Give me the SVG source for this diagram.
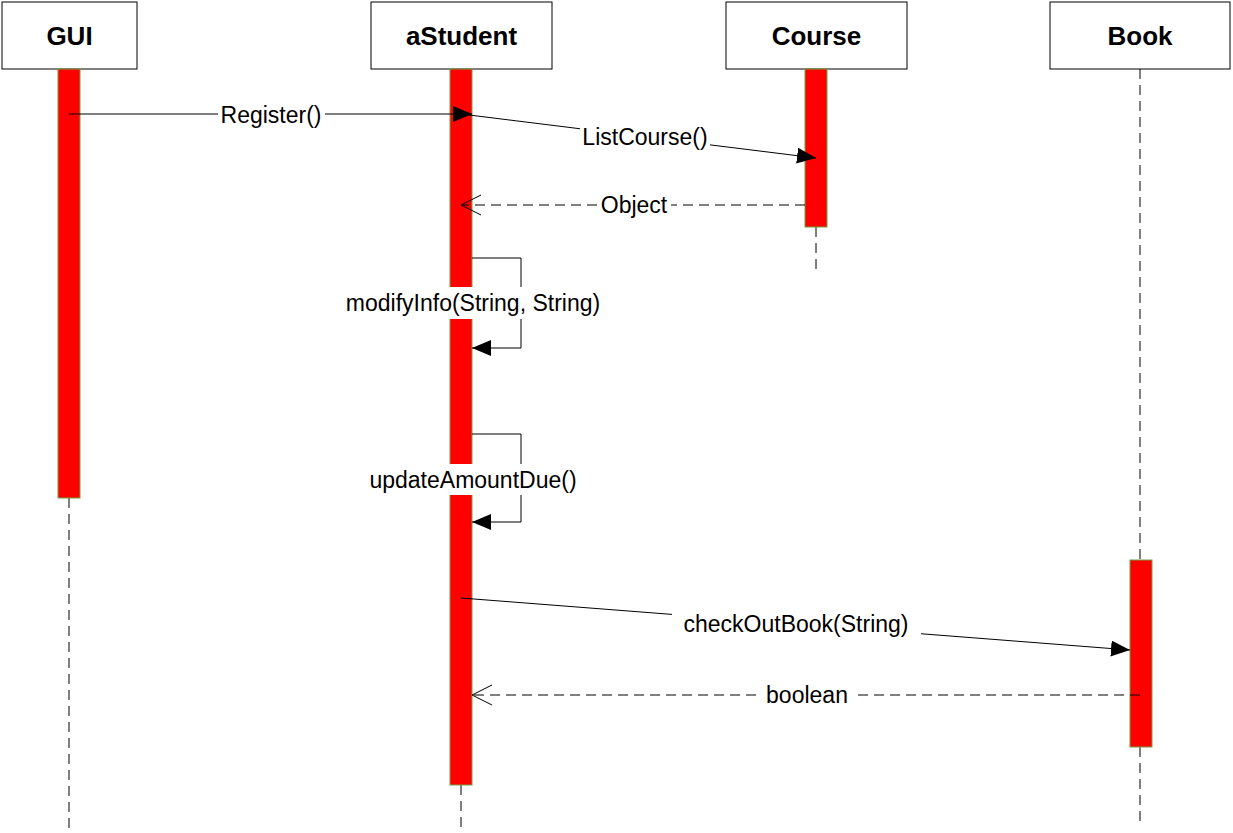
<svg xmlns="http://www.w3.org/2000/svg" width="1233" height="833" viewBox="0 0 1233 833">
<style>
.box{fill:#fff;stroke:#000;stroke-width:1}
.hdr{font-family:"Liberation Sans",Arial,sans-serif;font-weight:bold;font-size:26px;text-anchor:middle}
.bar{fill:#ff0000;stroke:#70a040;stroke-width:1}
.life{stroke:#000;stroke-width:1;stroke-dasharray:10,6;fill:none}
.msg{stroke:#000;stroke-width:1;fill:none}
.ret{stroke:#000;stroke-width:1;fill:none;stroke-dasharray:10,6}
.lbl{font-family:"Liberation Sans",Arial,sans-serif;font-size:23px;text-anchor:middle}
.bg{fill:#fff}
</style>
<defs>
<marker id="fill" markerWidth="20" markerHeight="16" refX="19" refY="8" orient="auto" markerUnits="userSpaceOnUse"><path d="M0,0 L19,8 L0,16 Z" fill="#000"/></marker>
<marker id="open" markerWidth="22" markerHeight="22" refX="20" refY="11" orient="auto" markerUnits="userSpaceOnUse"><path d="M0,1 L20,11 L0,21" fill="none" stroke="#000" stroke-width="1"/></marker>
</defs>
<rect width="1233" height="833" fill="#fff"/>
<g id="lifelines">
<line class="life" x1="69" y1="498" x2="69" y2="830"/>
<line class="life" x1="461" y1="785" x2="461" y2="830"/>
<line class="life" x1="816" y1="227" x2="816" y2="272"/>
<line class="life" x1="1140" y1="69" x2="1140" y2="560"/>
<line class="life" x1="1140" y1="747" x2="1140" y2="825"/>
</g>
<g id="GUI">
<rect class="box" x="2" y="2" width="135" height="67"/>
<text class="hdr" x="69.5" y="45">GUI</text>
<rect class="bar" x="58" y="69" width="22" height="429"/>
</g>
<g id="aStudent">
<rect class="box" x="371" y="2" width="181" height="67"/>
<text class="hdr" x="461.5" y="45">aStudent</text>
<rect class="bar" x="450" y="69" width="22" height="716"/>
</g>
<g id="Course">
<rect class="box" x="726" y="2" width="181" height="67"/>
<text class="hdr" x="816.5" y="45">Course</text>
<rect class="bar" x="805" y="69" width="22" height="158"/>
</g>
<g id="Book">
<rect class="box" x="1050" y="2" width="180" height="67"/>
<text class="hdr" x="1140" y="45">Book</text>
<rect class="bar" x="1130" y="560" width="22" height="187"/>
</g>
<g id="connectors">
<line class="msg" x1="69" y1="114" x2="472" y2="114" marker-end="url(#fill)"/>
<line class="msg" x1="461" y1="114" x2="816" y2="158" marker-end="url(#fill)"/>
<line class="ret" x1="805" y1="205" x2="461" y2="205" marker-end="url(#open)"/>
<polyline class="msg" points="472,258 521,258 521,348 472,348" marker-end="url(#fill)"/>
<polyline class="msg" points="472,434 521,434 521,522 472,522" marker-end="url(#fill)"/>
<line class="msg" x1="461" y1="598" x2="1130" y2="650" marker-end="url(#fill)"/>
<line class="ret" x1="1140" y1="695" x2="472" y2="695" marker-end="url(#open)"/>
</g>
<g id="labels">
<rect class="bg" x="218" y="102" width="107" height="26"/>
<text class="lbl" x="271" y="123">Register()</text>
<rect class="bg" x="580" y="124" width="130" height="26"/>
<text class="lbl" x="645" y="145">ListCourse()</text>
<rect class="bg" x="597" y="192" width="74" height="26"/>
<text class="lbl" x="634" y="213">Object</text>
<rect class="bg" x="330" y="287" width="286" height="32"/>
<text class="lbl" x="473" y="311">modifyInfo(String, String)</text>
<rect class="bg" x="355" y="464" width="236" height="31"/>
<text class="lbl" x="473" y="488">updateAmountDue()</text>
<rect class="bg" x="672" y="611" width="249" height="26"/>
<text class="lbl" x="796" y="632">checkOutBook(String)</text>
<rect class="bg" x="760" y="682" width="94" height="26"/>
<text class="lbl" x="807" y="703">boolean</text>
</g>
</svg>
